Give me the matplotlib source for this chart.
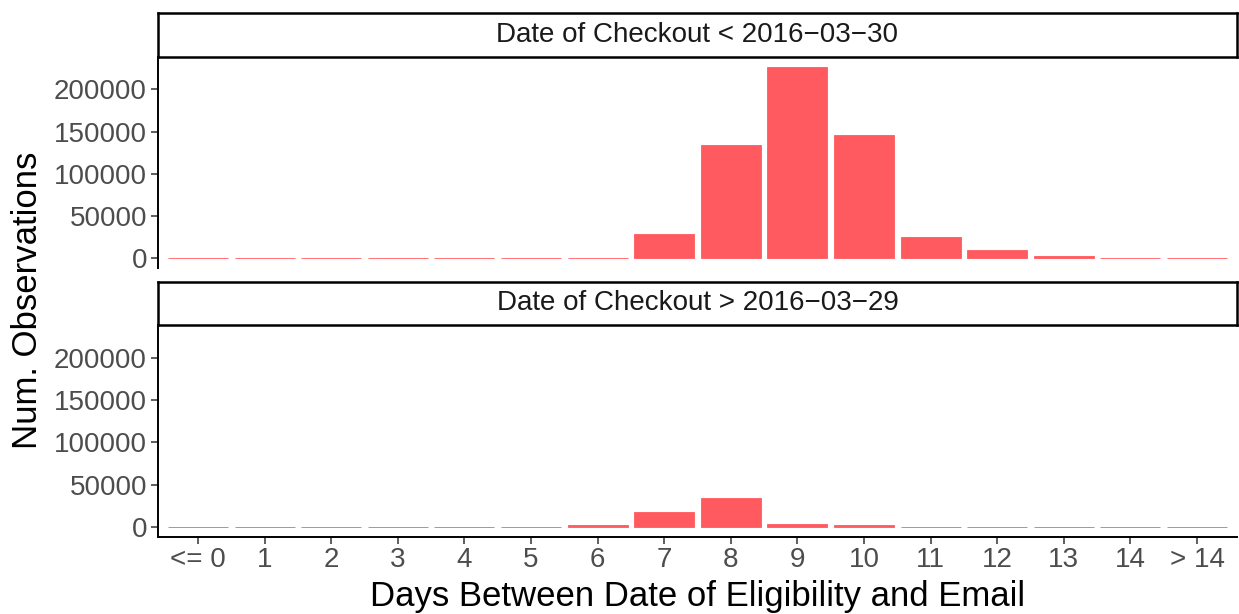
import matplotlib
matplotlib.use("Agg")
import matplotlib.pyplot as plt

plt.rcParams['font.family'] = ['Liberation Sans', 'DejaVu Sans']

categories = ["<= 0", "1", "2", "3", "4", "5", "6", "7", "8", "9", "10", "11", "12", "13", "14", "> 14"]
before_values = [300, 300, 300, 300, 300, 300, 300, 29000, 134500, 227000, 146000, 25000, 9500, 2700, 300, 300]
after_values = [300, 300, 300, 300, 300, 300, 2500, 18000, 34500, 4000, 2500, 1000, 1000, 1000, 1000, 1000]
panel_titles = ["Date of Checkout < 2016\u221203\u221230", "Date of Checkout > 2016\u221203\u221229"]
yticks = [0, 50000, 100000, 150000, 200000]

W, H = 1239, 614
fig = plt.figure(figsize=(W / 100, H / 100), dpi=100)

bar_color = "#FF5A5F"
left, right = 158 / W, 1237 / W
panels = [
    # (axes top px, axes bottom px, strip top px, strip bottom px)
    (57, 268, 13, 57),
    (325, 537, 282, 325),
]
ymax = max(max(before_values), max(after_values))
yrange = (-0.05 * ymax, 1.05 * ymax)
x = list(range(len(categories)))

for i, (vals, title, (at, ab, st, sb)) in enumerate(zip([before_values, after_values], panel_titles, panels)):
    ax = fig.add_axes([left, 1 - ab / H, right - left, (ab - at) / H])
    ax.bar(x, vals, width=0.9, color=bar_color, edgecolor=bar_color, linewidth=0.6)
    ax.set_xlim(-0.6, len(categories) - 0.4)
    ax.set_ylim(*yrange)
    ax.set_yticks(yticks)
    ax.set_yticklabels([str(v) for v in yticks])
    for s in ["top", "right"]:
        ax.spines[s].set_visible(False)
    ax.spines["left"].set_linewidth(1.4)
    ax.spines["left"].set_color("black")
    ax.tick_params(axis="y", labelsize=20, labelcolor="#4d4d4d", color="#333333", length=5, width=1.1, pad=3)
    if i == 0:
        ax.spines["bottom"].set_visible(False)
        ax.set_xticks([])
    else:
        ax.spines["bottom"].set_linewidth(1.4)
        ax.set_xticks(x)
        ax.set_xticklabels(categories)
        ax.tick_params(axis="x", labelsize=20, labelcolor="#4d4d4d", color="#333333", length=5, width=1.1, pad=2)
        ax.set_xlabel("Days Between Date of Eligibility and Email", fontsize=25, labelpad=5)
    # strip
    sax = fig.add_axes([left, 1 - sb / H, right - left, (sb - st) / H])
    sax.set_xticks([])
    sax.set_yticks([])
    for s in sax.spines.values():
        s.set_linewidth(1.8)
        s.set_color("black")
    sax.text(0.5, 0.5, title, ha="center", va="center", fontsize=20, color="#1a1a1a", transform=sax.transAxes)

fig.text(28 / W, 1 - 300 / H, "Num. Observations", rotation=90, ha="center", va="center", fontsize=25)

fig.savefig("out.png", dpi=100)
